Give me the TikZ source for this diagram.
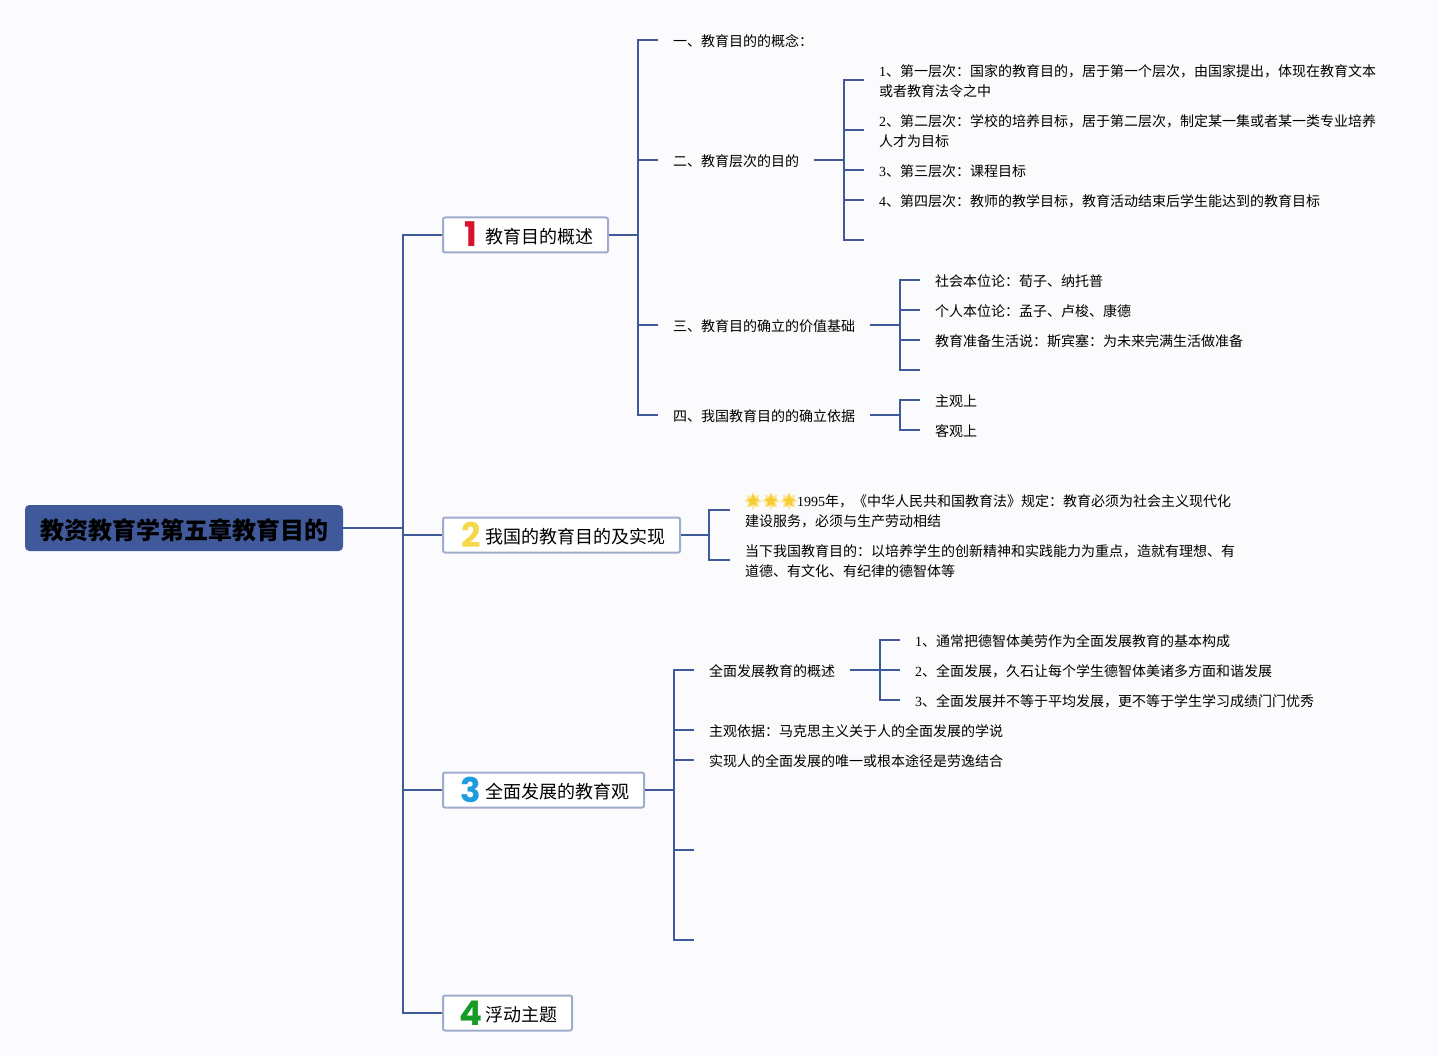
\documentclass[tikz,border=0pt]{standalone}
\usepackage{fontspec}
\setmainfont{Noto Sans CJK SC}
\newfontfamily\latinnum{Liberation Serif}
\newfontfamily\bignum{Poppins}
\usetikzlibrary{shapes.geometric}
\definecolor{PageBack}{HTML}{FBFBFD}
\definecolor{BranchBlue}{HTML}{40599A}
\definecolor{BoxEdge}{HTML}{A0ACCB}
\definecolor{NumRed}{HTML}{D8122C}
\definecolor{NumYellow}{HTML}{F5D84A}
\definecolor{NumBlue}{HTML}{1E9CDC}
\definecolor{NumGreen}{HTML}{169C26}
\definecolor{StarGold}{HTML}{F8CC33}
\definecolor{StarGlow}{HTML}{FBE79A}
\newcommand{\num}[1]{{\latinnum #1}}
\newcommand{\lift}{\rule{0pt}{14.5pt}}
\newcommand{\topicnum}[2]{\makebox[26pt][c]{\raisebox{-3.2pt}{\fontsize{34}{34}\bignum\bfseries\color{#1}#2}}\hspace{1pt}}
\tikzset{
    branch/.style={draw=BranchBlue, line width=2pt},
    rootbox/.style={fill=BranchBlue, draw=BranchBlue, rounded corners=4pt, line width=1pt,
        minimum width=317pt, minimum height=45pt, inner sep=0pt,
        text height=24pt, text depth=2pt,
        font=\fontsize{24}{24}\selectfont\bfseries},
    topicbox/.style={fill=white, draw=BoxEdge, rounded corners=2pt, line width=2pt,
        minimum height=35pt, inner ysep=0pt, inner xsep=15pt, anchor=west,
        text height=18.6pt, text depth=1pt,
        font=\fontsize{18}{18}\selectfont},
    leaf/.style={inner sep=0pt, outer xsep=15pt, outer ysep=0pt, anchor=west, align=left,
        font=\fontsize{14}{20}\selectfont, execute at begin node={\rule{0pt}{14.5pt}}},
    starglow/.style={star, star points=8, star point ratio=1.7, fill=StarGlow,
        minimum size=18pt, inner sep=0pt},
    goldstar/.style={star, star points=5, star point ratio=2.2, fill=StarGold,
        minimum size=14pt, inner sep=0pt},
}

\begin{document}
\begin{tikzpicture}[x=1pt, y=-1pt]
\fill[PageBack] (0,0) rectangle (1439,1056);
\useasboundingbox (0,0) rectangle (1439,1056);

% Raiz y temas
\node[rootbox] (root) at (184,528) {教资教育学第五章教育目的};
\node[topicbox] (topicA) at (442,235) {\topicnum{NumRed}{1}教育目的概述};
\node[topicbox] (topicB) at (442,535) {\topicnum{NumYellow}{2}我国的教育目的及实现};
\node[topicbox] (topicC) at (442,790) {\topicnum{NumBlue}{3}全面发展的教育观};
\node[topicbox] (topicD) at (442,1013) {\topicnum{NumGreen}{4}浮动主题};

\coordinate (trunk) at (403,528);
\draw[branch] (root) -- (trunk);
\foreach \t in {topicA,topicB,topicC,topicD}
    \draw[branch] (trunk) |- (\t.west);

% Tema 1
\node[leaf] (concept) at (658,40) {一、教育目的的概念：};
\node[leaf] (levels) at (658,160) {二、教育层次的目的};
\node[leaf] (value) at (658,325) {三、教育目的确立的价值基础};
\node[leaf] (basis) at (658,415) {四、我国教育目的的确立依据};

\coordinate (stemA) at (638,235);
\draw[branch] (topicA) -- (stemA);
\foreach \t in {concept,levels,value,basis}
    \draw[branch] (stemA) |- (\t.west);

\node[leaf] (levelOne) at (864,80) {\lift\num{1}、第一层次：国家的教育目的，居于第一个层次，由国家提出，体现在教育文本\\或者教育法令之中};
\node[leaf] (levelTwo) at (864,130) {\lift\num{2}、第二层次：学校的培养目标，居于第二层次，制定某一集或者某一类专业培养\\人才为目标};
\node[leaf] (levelThree) at (864,170) {\num{3}、第三层次：课程目标};
\node[leaf] (levelFour) at (864,200) {\num{4}、第四层次：教师的教学目标，教育活动结束后学生能达到的教育目标};
\coordinate (levelFive) at (864,240);

\coordinate (stemLevels) at (844,160);
\draw[branch] (levels.east) -- (stemLevels);
\foreach \t in {levelOne.west,levelTwo.west,levelThree.west,levelFour.west,levelFive}
    \draw[branch] (stemLevels) |- (\t);

\node[leaf] (valueOne) at (920,280) {社会本位论：荀子、纳托普};
\node[leaf] (valueTwo) at (920,310) {个人本位论：孟子、卢梭、康德};
\node[leaf] (valueThree) at (920,340) {教育准备生活说：斯宾塞：为未来完满生活做准备};
\coordinate (valueFour) at (920,370);

\coordinate (stemValue) at (900,325);
\draw[branch] (value.east) -- (stemValue);
\foreach \t in {valueOne.west,valueTwo.west,valueThree.west,valueFour}
    \draw[branch] (stemValue) |- (\t);

\node[leaf] (basisOne) at (920,400) {主观上};
\node[leaf] (basisTwo) at (920,430) {客观上};

\coordinate (stemBasis) at (900,415);
\draw[branch] (basis.east) -- (stemBasis);
\foreach \t in {basisOne,basisTwo}
    \draw[branch] (stemBasis) |- (\t.west);

% Tema 2
\node[leaf] (lawText) at (730,510) {\lift\hspace{52pt}\num{1995}年，《中华人民共和国教育法》规定：教育必须为社会主义现代化\\建设服务，必须与生产劳动相结};
\node[leaf] (aimText) at (730,560) {\lift{}当下我国教育目的：以培养学生的创新精神和实践能力为重点，造就有理想、有\\道德、有文化、有纪律的德智体等};
\foreach \x in {753,771,789} {
    \node[starglow] at (\x,501) {};
    \node[goldstar] at (\x,501) {};
}

\coordinate (stemB) at (709,535);
\draw[branch] (topicB) -- (stemB);
\foreach \t in {lawText,aimText}
    \draw[branch] (stemB) |- (\t.west);

% Tema 3
\node[leaf] (overview) at (694,670) {全面发展教育的概述};
\node[leaf] (grounds) at (694,730) {主观依据：马克思主义关于人的全面发展的学说};
\node[leaf] (route) at (694,760) {实现人的全面发展的唯一或根本途径是劳逸结合};
\coordinate (emptyOne) at (694,850);
\coordinate (emptyTwo) at (694,940);

\coordinate (stemC) at (674,790);
\draw[branch] (topicC) -- (stemC);
\foreach \t in {overview.west,grounds.west,route.west,emptyOne,emptyTwo}
    \draw[branch] (stemC) |- (\t);

\node[leaf] (overOne) at (900,640) {\num{1}、通常把德智体美劳作为全面发展教育的基本构成};
\node[leaf] (overTwo) at (900,670) {\num{2}、全面发展，久石让每个学生德智体美诸多方面和谐发展};
\node[leaf] (overThree) at (900,700) {\num{3}、全面发展并不等于平均发展，更不等于学生学习成绩门门优秀};

\coordinate (stemOver) at (880,670);
\draw[branch] (overview.east) -- (stemOver);
\foreach \t in {overOne,overTwo,overThree}
    \draw[branch] (stemOver) |- (\t.west);
\end{tikzpicture}
\end{document}
